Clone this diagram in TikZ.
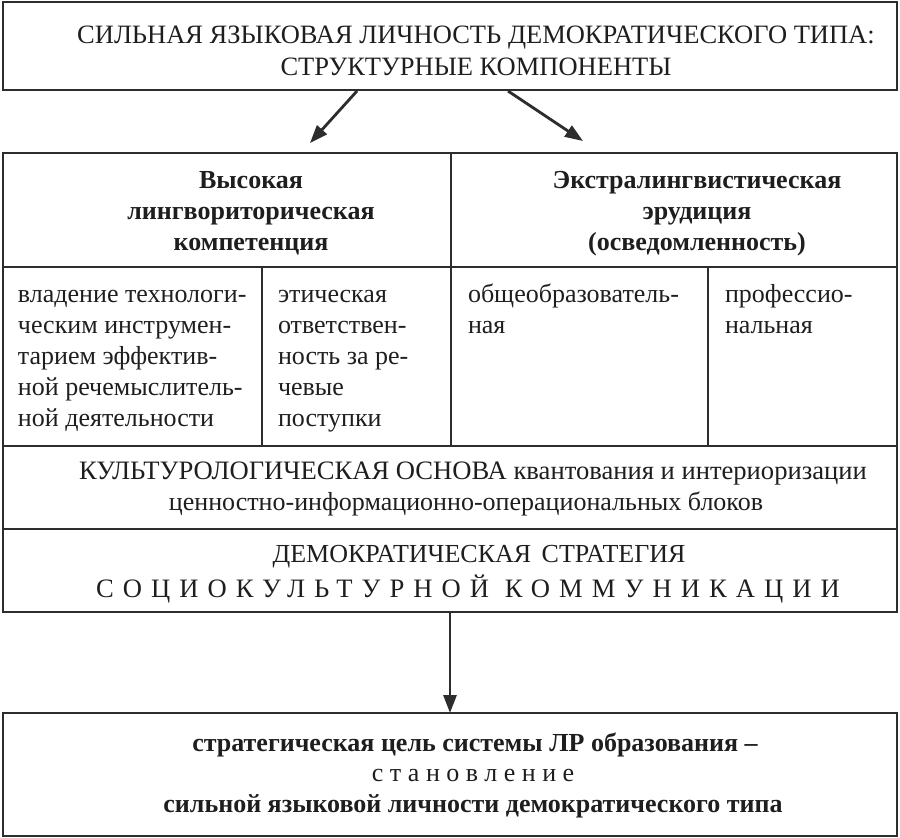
\documentclass[tikz,border=0pt]{standalone}
\usepackage{fontspec}
\setmainfont{Liberation Serif}
\usetikzlibrary{arrows.meta,calc}
\definecolor{linecol}{RGB}{45,45,45}
\definecolor{txtcol}{RGB}{30,30,30}
\newcommand\cellbox[5]{\node[cellbox,minimum width={(#4-#2)*0.5pt},minimum height={(#5-#3)*0.5pt}] (#1) at ({(#2+#4)/2},{(#3+#5)/2}) {};}
\newcommand\ctab[1]{\begin{tabular}[t]{@{}c@{}}#1\end{tabular}}
\newcommand\ltab[1]{\begin{tabular}[t]{@{}l@{}}#1\end{tabular}}
\begin{document}
\begin{tikzpicture}[x=0.5pt,y=-0.5pt,
  cellbox/.style={draw=linecol,line width=1pt,inner sep=0pt,outer sep=0pt},
  txt/.style={inner sep=0pt,outer sep=0pt,text=txtcol,font=\fontsize{13}{15.5}\selectfont,anchor=base},
  captxt/.style={txt,font=\fontsize{13.3}{16}\selectfont},
  boldtxt/.style={txt,font=\bfseries\fontsize{13}{15.5}\selectfont},
  ltxt/.style={txt,anchor=base west},
  arr/.style={draw=linecol,line width=1.4pt,-{Triangle[length=9pt,width=6.5pt]}}]
\useasboundingbox (0,0) rectangle (900,837);
% boxes
\cellbox{top}{3}{2}{897}{90}
\cellbox{hdrL}{3}{153}{451}{267}
\cellbox{hdrR}{451}{153}{897}{267}
\cellbox{c1}{3}{267}{262}{446}
\cellbox{c2}{262}{267}{451}{446}
\cellbox{c3}{451}{267}{708}{446}
\cellbox{c4}{708}{267}{897}{446}
\cellbox{cult}{3}{446}{897}{529}
\cellbox{dem}{3}{529}{897}{612}
\cellbox{goal}{3}{713}{897}{836}
% texts
\node[captxt,font=\fontsize{13.25}{16}\selectfont] (ttitle) at (476,43) {\ctab{СИЛЬНАЯ ЯЗЫКОВАЯ ЛИЧНОСТЬ ДЕМОКРАТИЧЕСКОГО ТИПА:\\СТРУКТУРНЫЕ КОМПОНЕНТЫ}};
\node[boldtxt] (thL) at (251,188) {\ctab{Высокая\\лингвориторическая\\компетенция}};
\node[boldtxt] (thR) at (697,188) {\ctab{Экстралингвистическая\\эрудиция\\(осведомленность)}};
\node[ltxt] (tc1) at (18,302) {\ltab{владение технологи-\\ческим инструмен-\\тарием эффектив-\\ной речемыслитель-\\ной деятельности}};
\node[ltxt] (tc2) at (278,302) {\ltab{этическая\\ответствен-\\ность за ре-\\чевые\\поступки}};
\node[ltxt] (tc3) at (468,302) {\ltab{общеобразователь-\\ная}};
\node[ltxt] (tc4) at (725,302) {\ltab{профессио-\\нальная}};
\node[captxt] (tcult1) at (473,479) {КУЛЬТУРОЛОГИЧЕСКАЯ ОСНОВА квантования и интериоризации};
\node[txt] (tcult2) at (466,510) {ценностно-информационно-операциональных блоков};
\node[txt] (tdem1) at (479,562) {ДЕМОКРАТИЧЕСКАЯ\hspace{0.4em}СТРАТЕГИЯ};
\node[captxt] (tdem2) at (468,597) {\addfontfeature{LetterSpace=34}СОЦИОКУЛЬТУРНОЙ КОММУНИКАЦИИ};
\node[boldtxt] (tgoal1) at (475,751) {стратегическая цель системы ЛР образования –};
\node[txt] (tgoal2) at (473,781) {\addfontfeature{LetterSpace=25}становление};
\node[boldtxt] (tgoal3) at (473,812) {сильной языковой личности демократического типа};
% arrows
\coordinate (a1s) at (357,91);
\coordinate (a1e) at (310,143);
\coordinate (a2s) at (508,91);
\coordinate (a2e) at (583,141);
\draw[arr] (a1s) -- (a1e);
\draw[arr] (a2s) -- (a2e);
\draw[arr] (dem.south) -- (goal.north);
\end{tikzpicture}
\end{document}
